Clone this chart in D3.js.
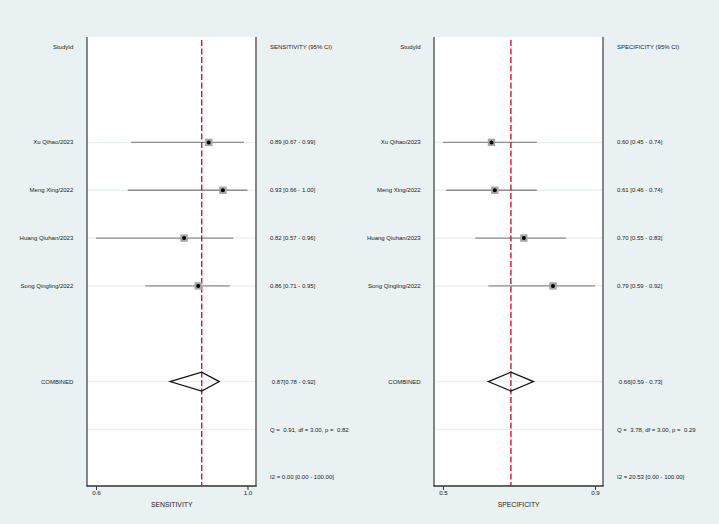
<!DOCTYPE html>
<html>
<head>
<meta charset="utf-8">
<script src="https://cdn.jsdelivr.net/npm/d3@7"></script>
<style>
  html, body { margin: 0; padding: 0; background: #eaf1f3; }
  svg { display: block; }
  text { font-family: "Liberation Sans", Arial, sans-serif; fill: #1a1a1a; white-space: pre; }
</style>
</head>
<body>
<script>
// ---- data ----
const studies = ["Xu Qihao/2023", "Meng Xing/2022", "Huang Qiuhan/2023", "Song Qingling/2022"];
const sensValues = [0.89, 0.93, 0.82, 0.86];
const sensLower  = [0.67, 0.66, 0.57, 0.71];
const sensUpper  = [0.99, 1.00, 0.96, 0.95];
const specValues = [0.60, 0.61, 0.70, 0.79];
const specLower  = [0.45, 0.46, 0.55, 0.59];
const specUpper  = [0.74, 0.74, 0.83, 0.92];
const sensCombined = [0.87, 0.78, 0.92];
const specCombined = [0.66, 0.59, 0.73];
const sensStats = ["Q =  0.91, df = 3.00, p =  0.82", "I2 = 0.00 [0.00 - 100.00]"];
const specStats = ["Q =  3.78, df = 3.00, p =  0.29", "I2 = 20.53 [0.00 - 100.00]"];
const sensTickValues = [0.57, 1.00];
const sensTickLabels = ["0.6", "1.0"];
const specTickValues = [0.45, 0.92];
const specTickLabels = ["0.5", "0.9"];

const W = 719, H = 524;
const svg = d3.select("body").append("svg").attr("width", W).attr("height", H);
svg.append("rect").attr("width", W).attr("height", H).attr("fill", "#eaf1f3");

const plotTop = 37, plotBottom = 486;
const rowY = d3.scaleLinear().domain([0, 9]).range([46.7, 477.3]);

function panel(cfg) {
  const g = svg.append("g");
  const x = d3.scaleLinear().domain([cfg.ticks[0], cfg.ticks[1]]).range(cfg.tickPx);
  // plot region
  g.append("rect").attr("x", cfg.L).attr("y", plotTop).attr("width", cfg.R - cfg.L).attr("height", plotBottom - plotTop)
    .attr("fill", "#ffffff");
  // gridlines
  const gridRows = [2, 3, 4, 5, 7, 8];
  g.selectAll(".grid").data(gridRows).enter().append("line")
    .attr("x1", cfg.L).attr("x2", cfg.R)
    .attr("y1", d => rowY(d)).attr("y2", d => rowY(d))
    .attr("stroke", "#eaf1f3").attr("stroke-width", 1.5);
  // borders
  g.append("line").attr("x1", cfg.L).attr("x2", cfg.L).attr("y1", plotTop).attr("y2", plotBottom)
    .attr("stroke", "#555").attr("stroke-width", 1.4);
  g.append("line").attr("x1", cfg.R).attr("x2", cfg.R).attr("y1", plotTop).attr("y2", plotBottom)
    .attr("stroke", "#555").attr("stroke-width", 1.4);
  g.append("line").attr("x1", cfg.L - 0.7).attr("x2", cfg.R + 0.7).attr("y1", plotBottom).attr("y2", plotBottom)
    .attr("stroke", "#333").attr("stroke-width", 1.4);
  // axis
  const axis = d3.axisBottom(x).tickValues(cfg.ticks).tickSize(4).tickSizeOuter(0)
    .tickFormat((d, i) => cfg.tickLabels[i]);
  const ax = g.append("g").attr("transform", `translate(0,${plotBottom})`).call(axis);
  ax.select(".domain").remove();
  ax.selectAll(".tick line").attr("stroke", "#333").attr("stroke-width", 1);
  ax.selectAll(".tick text").attr("font-size", 6.2).attr("dy", "0.55em").attr("y", 6)
    .style("font-family", "'Liberation Sans', Arial, sans-serif").attr("fill", "#222");
  g.append("text").attr("x", cfg.titleX).attr("y", 506.5).attr("text-anchor", "middle")
    .attr("font-size", 6.8).text(cfg.title);

  // CI lines
  g.selectAll(".ci").data(cfg.vals).enter().append("line")
    .attr("x1", (d, i) => x(cfg.lo[i])).attr("x2", (d, i) => x(cfg.hi[i]))
    .attr("y1", (d, i) => rowY(i + 2)).attr("y2", (d, i) => rowY(i + 2))
    .attr("stroke", "#8e8e8e").attr("stroke-width", 1.4);
  // reference line
  g.append("line").attr("x1", x(cfg.comb[0])).attr("x2", x(cfg.comb[0]))
    .attr("y1", plotTop + 3).attr("y2", plotBottom)
    .attr("stroke", "#e0102a").attr("stroke-width", 1.4).attr("stroke-dasharray", "6,2.5");
  // markers
  g.selectAll(".sq").data(cfg.vals).enter().append("rect")
    .attr("x", d => x(d) - 3.7).attr("y", (d, i) => rowY(i + 2) - 3.7)
    .attr("width", 7.4).attr("height", 7.4).attr("fill", "#a6a6a6");
  g.selectAll(".dot").data(cfg.vals).enter().append("circle")
    .attr("cx", d => x(d)).attr("cy", (d, i) => rowY(i + 2)).attr("r", 2)
    .attr("fill", "#000");
  // diamond
  const cy = rowY(7), hh = 9.4;
  const pts = [[x(cfg.comb[1]), cy], [x(cfg.comb[0]), cy - hh], [x(cfg.comb[2]), cy], [x(cfg.comb[0]), cy + hh]];
  g.append("path").attr("d", d3.line()(pts) + "Z").attr("fill", "none")
    .attr("stroke", "#111").attr("stroke-width", 1.2);

  // left labels
  const fs = 6;
  g.append("text").attr("x", cfg.labelX).attr("y", rowY(0)).attr("dy", "0.35em")
    .attr("text-anchor", "end").attr("font-size", fs).text("StudyId");
  g.selectAll(".lab").data(studies).enter().append("text")
    .attr("x", cfg.labelX).attr("y", (d, i) => rowY(i + 2)).attr("dy", "0.35em")
    .attr("text-anchor", "end").attr("font-size", fs).text(d => d);
  g.append("text").attr("x", cfg.labelX).attr("y", rowY(7)).attr("dy", "0.35em")
    .attr("text-anchor", "end").attr("font-size", fs).text("COMBINED");

  // right texts
  g.append("text").attr("x", cfg.textX).attr("y", rowY(0)).attr("dy", "0.35em")
    .attr("font-size", fs).text(cfg.header);
  g.selectAll(".est").data(cfg.vals).enter().append("text")
    .attr("x", cfg.textX).attr("y", (d, i) => rowY(i + 2)).attr("dy", "0.35em")
    .attr("font-size", fs)
    .text((d, i) => `${d.toFixed(2)} [${cfg.lo[i].toFixed(2)} - ${cfg.hi[i].toFixed(2)}]`);
  g.append("text").attr("x", cfg.textX + 1.8).attr("y", rowY(7)).attr("dy", "0.35em")
    .attr("font-size", fs)
    .text(`${cfg.comb[0].toFixed(2)}[${cfg.comb[1].toFixed(2)} - ${cfg.comb[2].toFixed(2)}]`);
  g.append("text").attr("x", cfg.textX).attr("y", rowY(8)).attr("dy", "0.35em")
    .attr("font-size", fs).text(cfg.stats[0]);
  g.append("text").attr("x", cfg.textX).attr("y", rowY(9)).attr("dy", "0.35em")
    .attr("font-size", fs).text(cfg.stats[1]);
}

panel({
  L: 87, R: 256, ticks: sensTickValues, tickLabels: sensTickLabels, tickPx: [96, 247.5],
  vals: sensValues, lo: sensLower, hi: sensUpper, comb: sensCombined, stats: sensStats,
  labelX: 73.3, textX: 270, header: "SENSITIVITY (95% CI)", title: "SENSITIVITY", titleX: 171.7
});
panel({
  L: 434, R: 603, ticks: specTickValues, tickLabels: specTickLabels, tickPx: [443, 595],
  vals: specValues, lo: specLower, hi: specUpper, comb: specCombined, stats: specStats,
  labelX: 420.7, textX: 617, header: "SPECIFICITY (95% CI)", title: "SPECIFICITY", titleX: 518.7
});
</script>
</body>
</html>
